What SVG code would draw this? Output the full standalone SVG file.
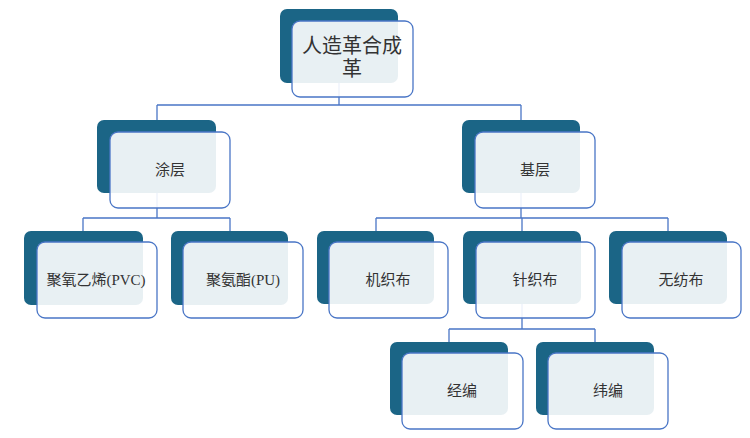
<svg xmlns="http://www.w3.org/2000/svg" width="750" height="438" viewBox="0 0 750 438">
<style>
.bg{fill:#1b6586}
.fg{fill:#ffffff;fill-opacity:0.9;stroke:#4a76c6;stroke-width:1.3}
.lbl{font-family:"Liberation Serif","Noto Sans CJK SC",serif;font-size:15px;fill:#333333;text-anchor:middle;dominant-baseline:central}
.big{font-size:20px}
.con{fill:none;stroke:#4a76c6;stroke-width:1.3}
</style>
<rect width="750" height="438" fill="#ffffff"/>
<g id="connectors">
<path class="con" d="M339 83V105M157 105H521M157 105V120M521 105V120"/>
<path class="con" d="M157 193V218M83 218H230M83 218V231M230 218V231"/>
<path class="con" d="M521 193V218M376 218H668M376 218V231M522 218V231M668 218V231"/>
<path class="con" d="M522 304V329M449 329H595M449 329V342M595 329V342"/>
</g>
<g id="n-root">
<rect class="bg" x="280" y="9" width="118" height="74" rx="7"/>
<rect class="fg" x="292" y="21" width="121" height="76" rx="8"/>
<text class="lbl big" x="352" y="46">人造革合成</text>
<text class="lbl big" x="352" y="69">革</text>
</g>
<g id="n-coating">
<rect class="bg" x="97" y="120" width="119" height="73" rx="7"/>
<rect class="fg" x="110" y="132" width="120" height="76" rx="8"/>
<text class="lbl" x="170" y="170">涂层</text>
</g>
<g id="n-base">
<rect class="bg" x="462" y="120" width="118" height="73" rx="7"/>
<rect class="fg" x="475" y="132" width="120" height="76" rx="8"/>
<text class="lbl" x="535" y="170">基层</text>
</g>
<g id="n-pvc">
<rect class="bg" x="24" y="231" width="119" height="74" rx="7"/>
<rect class="fg" x="37" y="242" width="120" height="76" rx="8"/>
<text class="lbl" x="96" y="280">聚氧乙烯(PVC)</text>
</g>
<g id="n-pu">
<rect class="bg" x="171" y="231" width="117" height="74" rx="7"/>
<rect class="fg" x="183" y="242" width="120" height="76" rx="8"/>
<text class="lbl" x="243" y="280">聚氨酯(PU)</text>
</g>
<g id="n-woven">
<rect class="bg" x="317" y="231" width="117" height="73" rx="7"/>
<rect class="fg" x="329" y="242" width="119" height="76" rx="8"/>
<text class="lbl" x="388" y="280">机织布</text>
</g>
<g id="n-knit">
<rect class="bg" x="463" y="231" width="118" height="73" rx="7"/>
<rect class="fg" x="476" y="242" width="119" height="76" rx="8"/>
<text class="lbl" x="535" y="280">针织布</text>
</g>
<g id="n-nonwoven">
<rect class="bg" x="609" y="231" width="118" height="73" rx="7"/>
<rect class="fg" x="622" y="242" width="119" height="76" rx="8"/>
<text class="lbl" x="681" y="280">无纺布</text>
</g>
<g id="n-warp">
<rect class="bg" x="390" y="342" width="118" height="73" rx="7"/>
<rect class="fg" x="402" y="353" width="121" height="76" rx="8"/>
<text class="lbl" x="462" y="391">经编</text>
</g>
<g id="n-weft">
<rect class="bg" x="536" y="342" width="118" height="73" rx="7"/>
<rect class="fg" x="548" y="353" width="120" height="76" rx="8"/>
<text class="lbl" x="608" y="391">纬编</text>
</g>
</svg>
